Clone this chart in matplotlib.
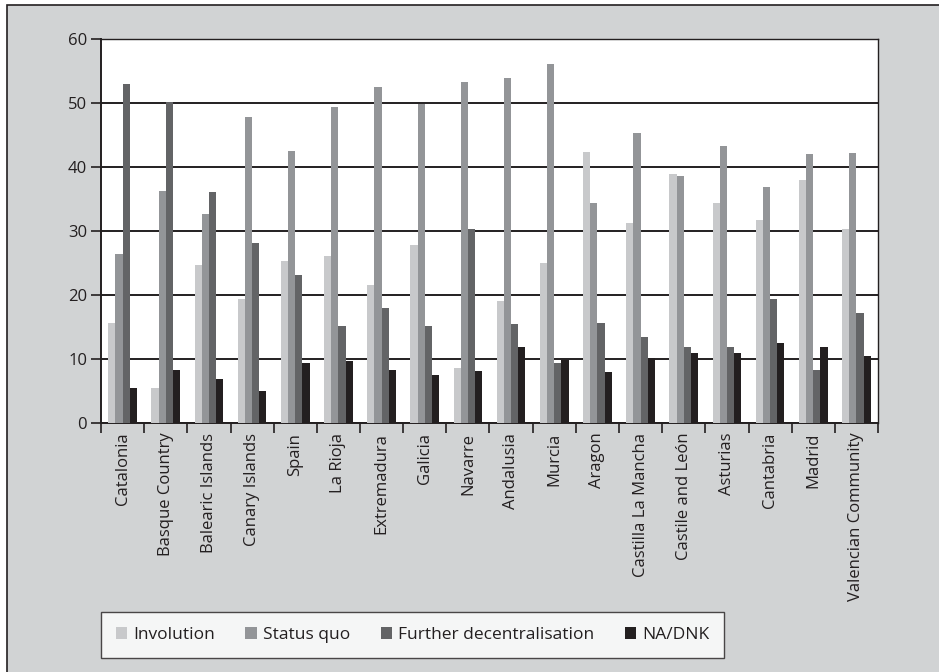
import matplotlib.pyplot as plt
import matplotlib.patches as mpatches
import matplotlib.ticker as ticker
import numpy as np

plt.rcParams['font.family'] = ['Open Sans', 'DejaVu Sans']

regions = ['Catalonia', 'Basque Country', 'Balearic Islands', 'Canary Islands', 'Spain',
           'La Rioja', 'Extremadura', 'Galicia', 'Navarre', 'Andalusia', 'Murcia', 'Aragon',
           'Castilla La Mancha', 'Castile and León', 'Asturias', 'Cantabria', 'Madrid',
           'Valencian Community']

involution = [15.7, 5.5, 24.7, 19.3, 25.3, 26.1, 21.6, 27.8, 8.6, 19.1, 25.0, 42.4,
              31.3, 38.9, 34.4, 31.7, 38.0, 30.3]
status_quo = [26.4, 36.3, 32.7, 47.8, 42.5, 49.4, 52.5, 49.8, 53.3, 53.9, 56.1, 34.4,
              45.3, 38.6, 43.3, 36.9, 42.0, 42.2]
further = [53.0, 50.2, 36.1, 28.1, 23.2, 15.2, 18.0, 15.2, 30.3, 15.5, 9.4, 15.7,
           13.5, 11.8, 11.8, 19.3, 8.3, 17.2]
na_dnk = [5.4, 8.3, 6.8, 5.0, 9.3, 9.7, 8.3, 7.5, 8.2, 11.9, 9.9, 8.0,
          10.2, 11.0, 11.0, 12.5, 11.9, 10.5]

series = [involution, status_quo, further, na_dnk]
labels = ['Involution', 'Status quo', 'Further decentralisation', 'NA/DNK']
colors = ['#c8c9cb', '#939598', '#636466', '#231f20']

dark = '#231f20'
bg = '#d1d3d4'

fig = plt.figure(figsize=(9.39, 6.72), dpi=100, facecolor='white')
# grey panel with a dark frame behind everything
fig.patches.append(mpatches.Rectangle((7 / 939, -0.05), 1.2, 1 - 5 / 672 + 0.05,
                                      transform=fig.transFigure, facecolor=bg,
                                      edgecolor=dark, linewidth=1.2, zorder=-10))

ax = fig.add_axes([101 / 939, 1 - 423 / 672, 777 / 939, 384 / 672])
ax.set_facecolor('white')

x = np.arange(len(regions))
w = 0.166
for i, (vals, lab, col) in enumerate(zip(series, labels, colors)):
    ax.bar(x + (i - 1.5) * w, vals, width=w, color=col, label=lab, linewidth=0, zorder=3)

ax.set_xlim(-0.5, len(regions) - 0.5)
ax.set_ylim(0, 60)
ax.yaxis.set_major_locator(ticker.MultipleLocator(10))
ax.grid(axis='y', color=dark, linewidth=1.4, zorder=1)
ax.set_axisbelow(True)

# ticks between categories, labels centred under each group
ax.set_xticks(np.arange(-0.5, len(regions), 1.0))
ax.set_xticklabels([])
ax.set_xticks(x, minor=True)
ax.set_xticklabels(regions, minor=True, rotation=90, fontsize=12, color=dark)
ax.tick_params(axis='x', which='major', direction='out', length=7, width=1.2, color=dark)
ax.tick_params(axis='x', which='minor', length=0, pad=7)
ax.tick_params(axis='y', direction='out', length=7, width=1.2, color=dark,
               labelsize=12, labelcolor=dark, pad=3)

for s in ['left', 'bottom']:
    ax.spines[s].set_color(dark)
    ax.spines[s].set_linewidth(1.4)
for s in ['top', 'right']:
    ax.spines[s].set_color(dark)
    ax.spines[s].set_linewidth(1.0)

leg = fig.legend(loc='upper left', bbox_to_anchor=(101 / 939, 1 - 612 / 672), ncol=4,
                 frameon=True, fancybox=False, edgecolor=dark, fontsize=12.5,
                 handlelength=0.67, handleheight=0.67, handletextpad=0.35,
                 columnspacing=1.74, borderpad=0.85, borderaxespad=0)
leg.get_frame().set_linewidth(1.0)
for t in leg.get_texts():
    t.set_color(dark)

plt.savefig('out.png', dpi=100, facecolor=fig.get_facecolor())
